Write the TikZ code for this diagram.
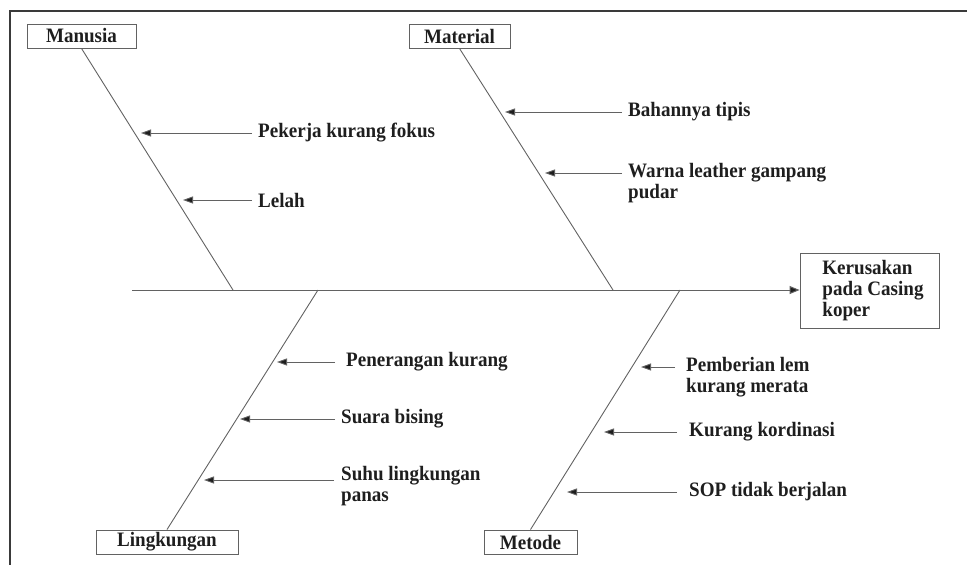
\documentclass[tikz,border=0pt]{standalone}
\usepackage{fontspec}
\setmainfont[FakeStretch=0.93]{Liberation Serif}
\usetikzlibrary{arrows.meta}
\definecolor{linegray}{HTML}{626262}
\definecolor{framegray}{HTML}{3A3A3A}
\definecolor{inkc}{HTML}{1E1E1E}
\tikzset{
  txt/.style={font=\fontsize{20.5}{21}\selectfont\bfseries, text=inkc, inner sep=0pt},
  catbox/.style={txt, draw=linegray, line width=0.9pt, minimum height=24pt, inner sep=0pt},
  effbox/.style={txt, draw=linegray, line width=0.9pt, minimum width=139pt, minimum height=75pt, align=left, inner sep=0pt},
  cause/.style={txt, anchor=west, align=left},
  bone/.style={draw=linegray, line width=0.9pt},
  spine/.style={draw=linegray, line width=1pt, -{Triangle[length=10pt,width=8pt,fill=inkc]}},
  carrow/.style={draw=linegray, line width=0.9pt, -{Triangle[length=10pt,width=7pt,fill=inkc]}},
  frameline/.style={draw=framegray, line width=1.6pt}
}
\begin{document}
\begin{tikzpicture}[x=1pt,y=-1pt]
\useasboundingbox (0,0) rectangle (967,565);
% frame
\draw[frameline] (10,566) -- (10,11) -- (968,11);

% category boxes
\node[catbox, minimum width=109pt] (man) at (81.5,36) {Manusia};
\node[catbox, minimum width=101pt] (mat) at (459.5,36) {Material};
\node[catbox, minimum width=142pt] (lin) at (167,542) {Lingkungan};
\node[catbox, minimum width=93pt] (met) at (530.5,542) {Metode};
\node[effbox] (eff) at (869.5,290.5) {\hspace*{7pt}Kerusakan\\\hspace*{7pt}pada Casing\\\hspace*{7pt}koper};

% spine
\coordinate (tail) at (132,290);
\draw[spine] (tail) -- (eff.west |- tail);

% bones
\coordinate (jman) at (233,290);
\coordinate (jmat) at (613,290);
\coordinate (jlin) at (318,290);
\coordinate (jmet) at (680,290);
\draw[bone] (man.south) -- (jman);
\draw[bone] (mat.south) -- (jmat);
\draw[bone] (lin.north) -- (jlin);
\draw[bone] (met.north) -- (jmet);

% causes - Manusia
\node[cause] (c1) at (258,133) {Pekerja kurang fokus};
\node[cause] (c2) at (258,200) {Lelah};
\coordinate (t1) at (141,133);
\coordinate (t2) at (183,200);
\draw[carrow] ([xshift=-6pt]c1.west) -- (t1);
\draw[carrow] ([xshift=-6pt]c2.west) -- (t2);

% causes - Material
\node[cause] (c3) at (628,112) {Bahannya tipis};
\node[cause] (c4) at (628,183.5) {Warna leather gampang\\pudar};
\coordinate (t3) at (505,112);
\coordinate (t4) at (545,173);
\draw[carrow] ([xshift=-6pt]c3.west) -- (t3);
\draw[carrow] ([xshift=-6pt]c4.west |- t4) -- (t4);

% causes - Lingkungan
\node[cause] (c5) at (346,362) {Penerangan kurang};
\node[cause] (c6) at (341,419) {Suara bising};
\node[cause] (c7) at (341,486) {Suhu lingkungan\\panas};
\coordinate (t5) at (277,362);
\coordinate (t6) at (240,419);
\coordinate (t7) at (204,480);
\draw[carrow] ([xshift=-11pt]c5.west) -- (t5);
\draw[carrow] ([xshift=-6pt]c6.west) -- (t6);
\draw[carrow] ([xshift=-7pt]c7.west |- t7) -- (t7);

% causes - Metode
\node[cause] (c8) at (686,377.5) {Pemberian lem\\kurang merata};
\node[cause] (c9) at (689,432) {Kurang kordinasi};
\node[cause] (c10) at (689,492) {SOP tidak berjalan};
\coordinate (t8) at (641,367);
\coordinate (t9) at (604,432);
\coordinate (t10) at (567,492);
\draw[carrow] ([xshift=-11pt]c8.west |- t8) -- (t8);
\draw[carrow] ([xshift=-12pt]c9.west) -- (t9);
\draw[carrow] ([xshift=-12pt]c10.west) -- (t10);
\end{tikzpicture}
\end{document}
